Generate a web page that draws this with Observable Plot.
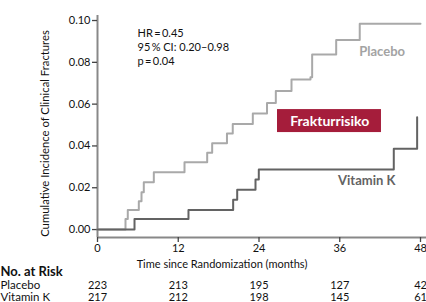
<!DOCTYPE html>
<html><head><meta charset="utf-8">
<script src="https://cdn.jsdelivr.net/npm/d3@7"></script>
<script src="https://cdn.jsdelivr.net/npm/@observablehq/plot@0.6"></script>
<style>
body{margin:0;background:#fff;}
#chart svg{display:block;}
</style>
</head><body><div id="chart"></div>
<script>
// ---- data ----
const placeboTime = [0, 4.16, 4.5, 6.14, 6.54, 6.88, 8.37, 12.93, 16.3, 17.04, 19.24, 20.1, 23.08, 25.19, 26.5, 28.83, 31.65, 31.9, 35.47, 38.97, 48];
const placeboInc  = [0, 0.0050, 0.0094, 0.0135, 0.0178, 0.0226, 0.0274, 0.0322, 0.0368, 0.0413, 0.0459, 0.0505, 0.0555, 0.0605, 0.0663, 0.0718, 0.0729, 0.0837, 0.0907, 0.0984, 0.0984];
const vitKTime = [0, 5.5, 13.52, 20.16, 20.76, 23.48, 23.97, 44.03, 47.5];
const vitKInc  = [0, 0.0051, 0.0094, 0.0142, 0.0190, 0.0239, 0.0287, 0.0386, 0.0537];

const xTicks = [0, 12, 24, 36, 48];
const yTicks = [0, 0.02, 0.04, 0.06, 0.08, 0.10];

const groups = ["Placebo", "Vitamin K"];
const riskMonths = [0, 12, 24, 36, 48];
const riskPlacebo = [223, 213, 195, 127, 42];
const riskVitK = [217, 212, 198, 145, 61];

const hrLines = ["HR\u2009=\u20090.45", "95\u2009% CI: 0.20\u20130.98", "p\u2009=\u20090.04"];
const yTitle = "Cumulative Incidence of Clinical Fractures";
const xTitle = "Time since Randomization (months)";
const badge = "Frakturrisiko";

// ---- tables built from the arrays ----
const placebo = placeboTime.map((t, i) => ({t, v: placeboInc[i]}));
const vitK = vitKTime.map((t, i) => ({t, v: vitKInc[i]}));
const riskRows = riskMonths.flatMap((m, i) => [
  {month: m, group: groups[0], n: riskPlacebo[i]},
  {month: m, group: groups[1], n: riskVitK[i]}
]);

const yMin = -0.0038, yMax = 0.1024;
const font = "Lato, 'Open Sans', sans-serif";

const main = Plot.plot({
  width: 426, height: 277,
  marginLeft: 97, marginRight: 6, marginTop: 15, marginBottom: 40,
  style: {fontFamily: font, fontSize: "11px", background: "white", color: "#111", overflow: "visible"},
  x: {domain: [0, 48]},
  y: {domain: [yMin, yMax]},
  marks: [
    Plot.ruleX([0], {stroke: "#888", strokeWidth: 2}),
    Plot.ruleY([yMin], {x1: 0, x2: 48.9, stroke: "#888", strokeWidth: 2}),
    Plot.axisY({ticks: yTicks, tickFormat: d3.format(".2f"), tickSize: 5, tickPadding: 2, stroke: "#444", strokeWidth: 1.3, label: null}),
    Plot.axisX({ticks: xTicks, tickSize: 5, tickPadding: 2, stroke: "#444", strokeWidth: 1.3, label: null}),
    Plot.line(placebo, {x: "t", y: "v", curve: "step-after", stroke: "#a9a9a9", strokeWidth: 2}),
    Plot.line(vitK, {x: "t", y: "v", curve: "step-after", stroke: "#636363", strokeWidth: 2}),
    Plot.text([hrLines.join("\n")], {frameAnchor: "top-left", dx: 40, dy: 12, textAnchor: "start", lineAnchor: "top", lineHeight: 1.25, fontSize: 11, fill: "#111"}),
    Plot.text(["Placebo"], {x: 42.3, y: 0.0852, fill: "#a3a3a3", fontWeight: "bold", fontSize: 13}),
    Plot.text(["Vitamin K"], {x: 40.0, y: 0.0231, fill: "#636363", fontWeight: "bold", fontSize: 13}),
    Plot.rect([badge], {x1: 26.75, x2: 42.2, y1: 0.0464, y2: 0.0574, fill: "#a51d3b"}),
    Plot.text([badge], {x: 34.5, y: 0.0519, fill: "white", fontWeight: "bold", fontSize: 14}),
    Plot.text([yTitle], {frameAnchor: "left", rotate: -90, textAnchor: "middle", lineAnchor: "middle", dx: -52, dy: 7, fontSize: 11.3, fill: "#111"}),
    Plot.text([xTitle], {x: 18.5, frameAnchor: "bottom", lineAnchor: "middle", dy: 27, fontSize: 11, fill: "#111"}),
    Plot.text(["No. at Risk"], {frameAnchor: "bottom-left", lineAnchor: "middle", dx: -97, dy: 34, textAnchor: "start", fontWeight: "bold", fontSize: 13, fill: "#111"})
  ]
});

const risk = Plot.plot({
  width: 426, height: 25,
  marginLeft: 97, marginRight: 6, marginTop: 8, marginBottom: 5,
  style: {fontFamily: font, fontSize: "11px", background: "white", color: "#111", overflow: "visible"},
  x: {domain: [0, 48], axis: null},
  y: {type: "point", domain: groups, padding: 0, axis: null},
  marks: [
    Plot.text(riskRows, {x: "month", y: "group", text: "n", fontSize: 11, fill: "#111"}),
    Plot.text(groups, {y: d => d, text: d => d, frameAnchor: "left", dx: -97, textAnchor: "start", fontSize: 11.5, fill: "#111"})
  ]
});

const el = document.getElementById("chart");
el.append(main, risk);
</script>
</body></html>
